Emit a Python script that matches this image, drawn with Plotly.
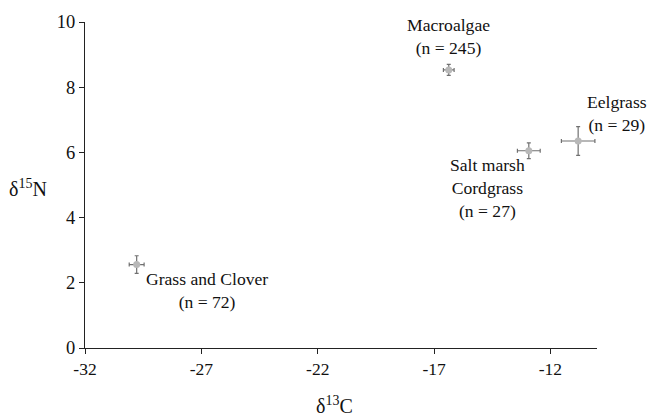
import plotly.graph_objects as go

groups = ["Grass and Clover", "Macroalgae", "Salt marsh Cordgrass", "Eelgrass"]
d13c = [-29.78, -16.37, -12.93, -10.81]
d15n = [2.56, 8.53, 6.05, 6.35]
d13c_err = [0.32, 0.23, 0.49, 0.72]
d15n_err = [0.27, 0.17, 0.24, 0.44]

labels = ["Grass and Clover<br>(n = 72)", "Macroalgae<br>(n = 245)",
          "Salt marsh<br>Cordgrass<br>(n = 27)", "Eelgrass<br>(n = 29)"]
label_x = [-26.76, -16.37, -14.70, -9.15]
label_y = [1.76, 9.56, 4.91, 7.18]

x_ticks = [-32, -27, -22, -17, -12]
y_ticks = [0, 2, 4, 6, 8, 10]
x_range = [-32, -10]
y_range = [0, 10]

font = "Liberation Serif, Times New Roman, serif"

fig = go.Figure()
fig.add_trace(go.Scatter(
    x=d13c, y=d15n, mode="markers",
    marker=dict(color="#b8b8b8", size=7, symbol="circle"),
    error_x=dict(type="data", array=d13c_err, color="#707070", thickness=1.2, width=2),
    error_y=dict(type="data", array=d15n_err, color="#707070", thickness=1.2, width=2),
    showlegend=False, hoverinfo="skip",
))

for t, x, y in zip(labels, label_x, label_y):
    px = (x - x_range[0]) / (x_range[1] - x_range[0])
    py = (y - y_range[0]) / (y_range[1] - y_range[0])
    fig.add_annotation(x=px, y=py, xref="paper", yref="paper", text=t, showarrow=False,
                       xanchor="center", yanchor="middle",
                       font=dict(family=font, size=17.6, color="#111111"), align="center")

fig.add_annotation(x=-0.111, y=0.49, xref="paper", yref="paper", text="δ<sup>15</sup>N",
                   showarrow=False, xanchor="center", yanchor="middle",
                   font=dict(family=font, size=20, color="#111111"))
fig.add_annotation(x=0.488, y=-0.174, xref="paper", yref="paper", text="δ<sup>13</sup>C",
                   showarrow=False, xanchor="center", yanchor="middle",
                   font=dict(family=font, size=20, color="#111111"))

fig.update_layout(
    width=651, height=417,
    margin=dict(l=85, r=54, t=17, b=69),
    paper_bgcolor="white", plot_bgcolor="white",
    font=dict(family=font, size=17, color="#111111"),
    xaxis=dict(range=x_range, tickvals=x_ticks, ticktext=[str(v) for v in x_ticks],
               showgrid=False, zeroline=False, showline=True, linecolor="#222222", linewidth=1,
               ticks="outside", ticklen=5, tickcolor="#222222",
               tickfont=dict(family=font, size=17.5)),
    yaxis=dict(range=y_range, tickvals=y_ticks, showgrid=False, zeroline=False,
               showline=True, linecolor="#222222", linewidth=1,
               ticks="outside", ticklen=5, tickcolor="#222222",
               tickfont=dict(family=font, size=18.5)),
)

fig.write_html("out.html")
